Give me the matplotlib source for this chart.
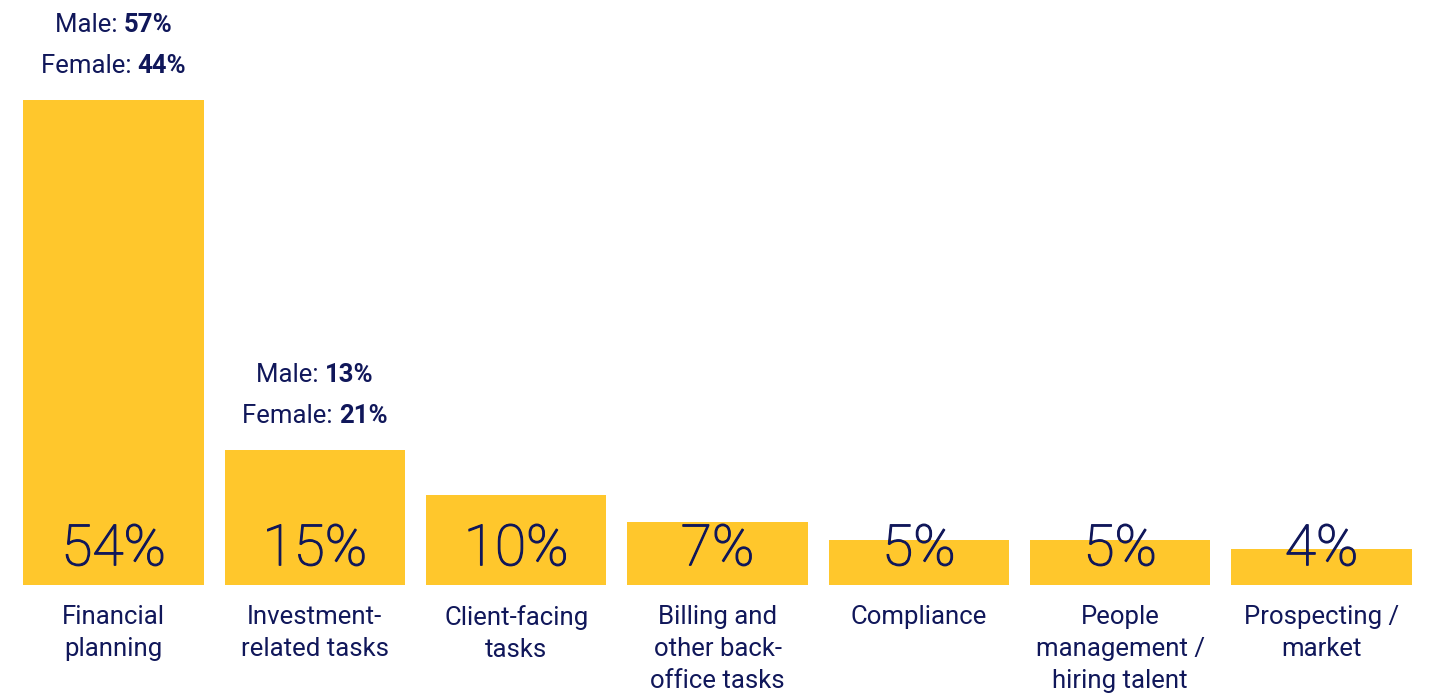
import matplotlib
matplotlib.use("Agg")
import matplotlib.pyplot as plt
import matplotlib.patheffects as pe
from matplotlib.offsetbox import TextArea, HPacker, VPacker, AnnotationBbox

# share of time by task area
categories = [
    "Financial\nplanning",
    "Investment-\nrelated tasks",
    "Client-facing\ntasks",
    "Billing and\nother back-\noffice tasks",
    "Compliance",
    "People\nmanagement /\nhiring talent",
    "Prospecting /\nmarket",
]
overall = [54, 15, 10, 7, 5, 5, 4]

# gender split shown above the first two bars
split_idx = [0, 1]
male = [57, 13]
female = [44, 21]

YELLOW = "#FFC72C"
NAVY = "#10175A"

plt.rcParams["font.family"] = ["Roboto", "DejaVu Sans"]

fig = plt.figure(figsize=(14.31, 6.93), dpi=100)
ax = fig.add_axes([0, 0, 1, 1])
ax.set_xlim(-0.564, 6.544)
ax.set_ylim(-12.03, 65.14)
ax.axis("off")

x = list(range(len(categories)))
ax.bar(x, overall, width=0.895, color=YELLOW, linewidth=0)

# light digits, thickened a touch with an outline
thicken = [pe.withStroke(linewidth=0.9, foreground=NAVY)]
for xi, v, lab in zip(x, overall, categories):
    # big value sits near the baseline, even when it overflows the bar
    ax.text(xi, 2.2, f"{v}%", ha="center", va="baseline",
            fontsize=41, fontweight="light", color=NAVY,
            path_effects=thicken)
    ax.annotate(lab, (xi, 0), xytext=(0, -14.5), textcoords="offset points",
                ha="center", va="top", fontsize=18.5, color=NAVY,
                linespacing=1.42)

reg = dict(color=NAVY, fontsize=18.5)
bold = dict(color=NAVY, fontsize=18.5, fontweight="bold")
for i, m, f in zip(split_idx, male, female):
    row_m = HPacker(children=[TextArea("Male: ", textprops=reg),
                              TextArea(f"{m}%", textprops=bold)],
                    pad=0, sep=0, align="baseline")
    row_f = HPacker(children=[TextArea("Female: ", textprops=reg),
                              TextArea(f"{f}%", textprops=bold)],
                    pad=0, sep=0, align="baseline")
    box = VPacker(children=[row_m, row_f], pad=0, sep=12, align="center")
    ab = AnnotationBbox(box, (i, overall[i]), xybox=(0, 16),
                        xycoords="data", boxcoords="offset points",
                        box_alignment=(0.5, 0), frameon=False)
    ax.add_artist(ab)

fig.savefig("out.png", dpi=100, facecolor="white")
